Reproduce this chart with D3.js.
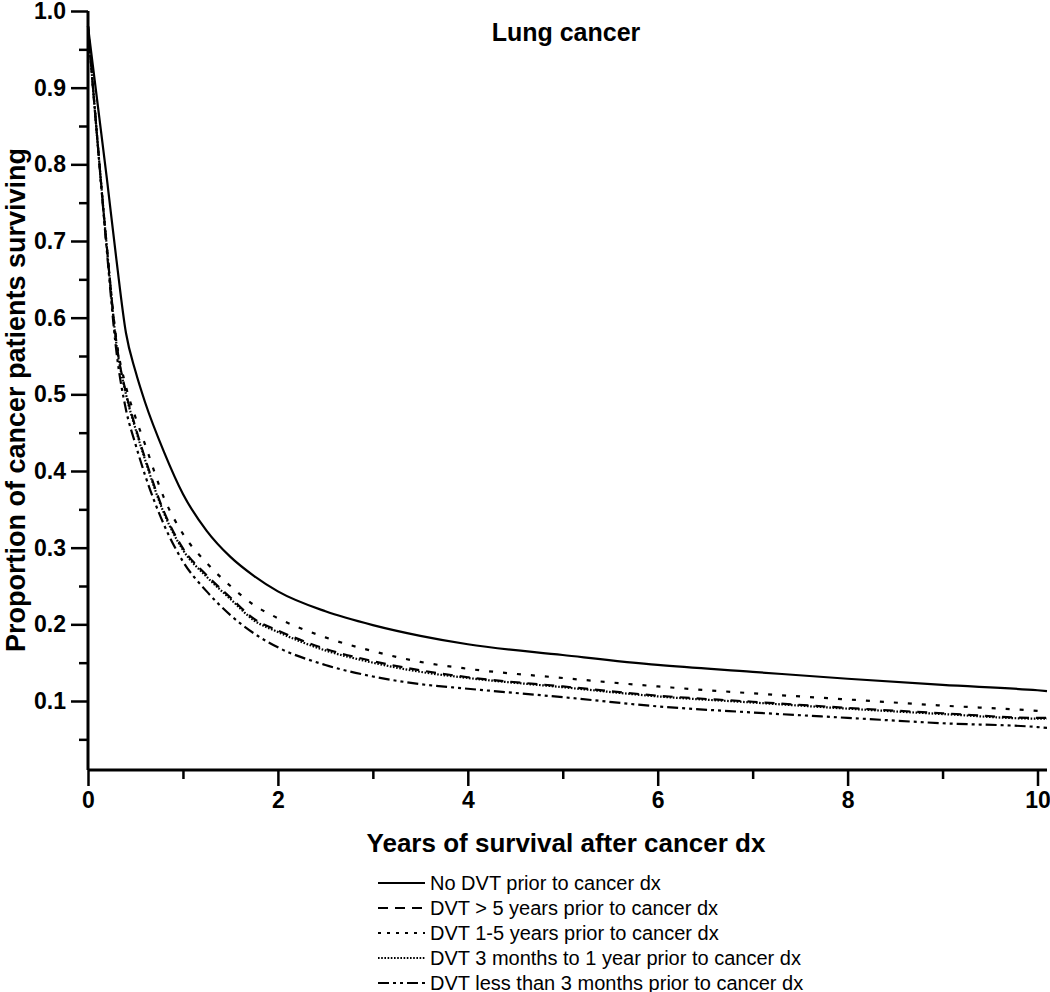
<!DOCTYPE html>
<html>
<head>
<meta charset="utf-8">
<script src="https://cdn.jsdelivr.net/npm/d3@7"></script>
<style>
  html, body { margin: 0; padding: 0; background: #fff; }
  svg { display: block; }
  text { font-family: "Liberation Sans", Arial, sans-serif; fill: #000; }
</style>
</head>
<body>
<svg id="chart" width="1050" height="992"></svg>
<script>
// ---- Data ----
const years = [0, 0.1, 0.2, 0.3, 0.4, 0.5, 0.6, 0.8, 1.0, 1.25, 1.5, 1.75, 2.0, 2.5, 3.0, 3.5, 4.0, 5.0, 6.0, 7.0, 8.0, 9.0, 10.0, 10.1];
const noDVT        = [0.98, 0.88, 0.78, 0.675, 0.58, 0.53, 0.49, 0.425, 0.37, 0.322, 0.288, 0.263, 0.243, 0.217, 0.199, 0.185, 0.174, 0.160, 0.147, 0.138, 0.129, 0.121, 0.114, 0.113];
const dvtOver5     = [0.98, 0.83, 0.69, 0.567, 0.502, 0.457, 0.417, 0.347, 0.299, 0.264, 0.235, 0.207, 0.192, 0.168, 0.152, 0.140, 0.131, 0.119, 0.107, 0.099, 0.091, 0.084, 0.078, 0.078];
const dvt1to5      = [0.98, 0.83, 0.69, 0.57, 0.51, 0.47, 0.435, 0.365, 0.318, 0.28, 0.25, 0.225, 0.208, 0.183, 0.165, 0.151, 0.142, 0.130, 0.119, 0.110, 0.102, 0.094, 0.087, 0.086];
const dvt3mTo1y    = [0.98, 0.83, 0.69, 0.565, 0.50, 0.455, 0.415, 0.345, 0.297, 0.262, 0.233, 0.205, 0.190, 0.166, 0.150, 0.138, 0.130, 0.118, 0.106, 0.098, 0.090, 0.083, 0.077, 0.077];
const dvtUnder3m   = [0.98, 0.83, 0.685, 0.555, 0.48, 0.435, 0.395, 0.33, 0.282, 0.243, 0.212, 0.188, 0.170, 0.147, 0.132, 0.122, 0.116, 0.105, 0.093, 0.085, 0.078, 0.071, 0.066, 0.065];

const seriesNames = [
  "No DVT prior to cancer dx",
  "DVT > 5 years prior to cancer dx",
  "DVT 1-5 years prior to cancer dx",
  "DVT 3 months to 1 year prior to cancer dx",
  "DVT less than 3 months prior to cancer dx"
];
const seriesValues = [noDVT, dvtOver5, dvt1to5, dvt3mTo1y, dvtUnder3m];

const xMajorTicks = [0, 2, 4, 6, 8, 10];
const xMinorTicks = [1, 3, 5, 7, 9];
const yMajorTicks = [0.1, 0.2, 0.3, 0.4, 0.5, 0.6, 0.7, 0.8, 0.9, 1.0];
const yMinorTicks = [0.05, 0.15, 0.25, 0.35, 0.45, 0.55, 0.65, 0.75, 0.85, 0.95];

const titleText = "Lung cancer";
const xTitle = "Years of survival after cancer dx";
const yTitle = "Proportion of cancer patients surviving";

// ---- Styles ----
const dashes = ["none", "10,7", "4,10", "1.6,1.6", "11,4,3,4,3,4"];
const legendDashes = ["none", "10,7", "3,6", "1.6,1.6", "11,4,3,4,3,4"];

const svg = d3.select("#chart");
const x = d3.scaleLinear().domain([0, 10.1]).range([88, 1047]);
const y = d3.scaleLinear().domain([0.01, 1.0]).range([770, 11]);

// Axes
const xAxisG = svg.append("g").attr("transform", "translate(0,770)");
xAxisG.call(d3.axisBottom(x).tickValues(xMajorTicks).tickSize(16).tickPadding(6).tickFormat(d3.format("d")));
xAxisG.append("g").call(d3.axisBottom(x).tickValues(xMinorTicks).tickSize(9).tickFormat(""));
const yAxisG = svg.append("g").attr("transform", "translate(88,0)");
yAxisG.call(d3.axisLeft(y).tickValues(yMajorTicks).tickSize(17).tickPadding(5).tickFormat(d3.format(".1f")));
yAxisG.append("g").call(d3.axisLeft(y).tickValues(yMinorTicks).tickSize(9).tickFormat(""));

svg.selectAll(".domain").attr("stroke", "#000").attr("stroke-width", 3);
svg.selectAll(".tick line").attr("stroke", "#000").attr("stroke-width", 2.5);
svg.selectAll(".tick text")
  .style("font-family", "'Liberation Sans', Arial, sans-serif")
  .style("font-weight", "bold")
  .style("font-size", "23px")
  .attr("fill", "#000");
xAxisG.select(".domain").attr("d", `M${x(0)},0H${x(10.1)}`);
yAxisG.select(".domain").attr("d", `M0,${y(0.01)}V${y(1.0)}`);
yAxisG.selectAll("g > g").select(".domain").remove();
xAxisG.selectAll("g > g").select(".domain").remove();

// Lines
const line = d3.line()
  .x((d, i) => x(years[i]))
  .y(d => y(d))
  .curve(d3.curveMonotoneX);

seriesValues.forEach((vals, k) => {
  svg.append("path")
    .datum(vals)
    .attr("d", line)
    .attr("fill", "none")
    .attr("stroke", "#000")
    .attr("stroke-width", 2.2)
    .attr("stroke-dasharray", dashes[k]);
});

// Titles
svg.append("text").attr("x", 566).attr("y", 41).attr("text-anchor", "middle")
  .style("font-weight", "bold").style("font-size", "25px").text(titleText);
svg.append("text").attr("x", 566).attr("y", 852).attr("text-anchor", "middle")
  .style("font-weight", "bold").style("font-size", "26px").text(xTitle);
svg.append("text").attr("transform", "translate(25,400) rotate(-90)").attr("text-anchor", "middle")
  .style("font-weight", "bold").style("font-size", "27px").text(yTitle);

// Legend
const leg = svg.append("g");
seriesNames.forEach((name, k) => {
  const cy = 883 + k * 25;
  leg.append("line").attr("x1", 378).attr("x2", 425).attr("y1", cy).attr("y2", cy)
    .attr("stroke", "#000").attr("stroke-width", 2).attr("stroke-dasharray", legendDashes[k]);
  leg.append("text").attr("x", 430).attr("y", cy + 7)
    .style("font-size", "20px").text(name);
});
</script>
</body>
</html>
